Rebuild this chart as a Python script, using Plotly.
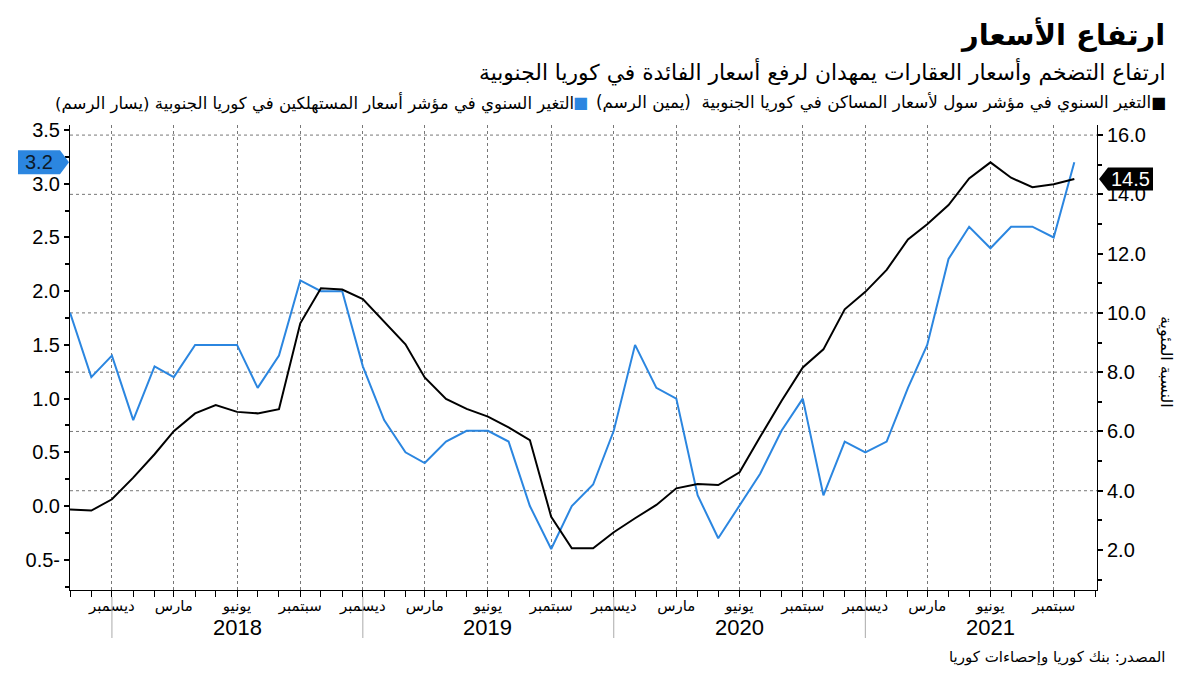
import plotly.graph_objects as go
import pandas as pd

# ---------------- data ----------------
months = pd.date_range("2017-10-01", "2021-10-01", freq="MS")

cpi_yoy = [1.8, 1.2, 1.4, 0.8, 1.3, 1.2, 1.5, 1.5, 1.5, 1.1, 1.4, 2.1,
           2.0, 2.0, 1.3, 0.8, 0.5, 0.4, 0.6, 0.7, 0.7, 0.6, 0.0, -0.4,
           0.0, 0.2, 0.7, 1.5, 1.1, 1.0, 0.1, -0.3, 0.0, 0.3, 0.7, 1.0,
           0.1, 0.6, 0.5, 0.6, 1.1, 1.5, 2.3, 2.6, 2.4, 2.6, 2.6, 2.5, 3.2]

seoul_housing_yoy = [3.37, 3.33, 3.71, 4.44, 5.23, 6.01, 6.61, 6.89, 6.66, 6.61, 6.75, 9.65,
                     10.83, 10.79, 10.47, 9.72, 8.94, 7.82, 7.10, 6.76, 6.50, 6.14, 5.71, 3.12,
                     2.06, 2.06, 2.60, 3.07, 3.52, 4.08, 4.23, 4.19, 4.62, 5.82, 7.03, 8.16,
                     8.77, 10.12, 10.71, 11.45, 12.48, 12.99, 13.64, 14.54, 15.08, 14.56, 14.24, 14.34, 14.52]

tick_dates = ["2017-12-01", "2018-03-01", "2018-06-01", "2018-09-01",
              "2018-12-01", "2019-03-01", "2019-06-01", "2019-09-01",
              "2019-12-01", "2020-03-01", "2020-06-01", "2020-09-01",
              "2020-12-01", "2021-03-01", "2021-06-01", "2021-09-01"]
tick_labels = ["ديسمبر", "مارس", "يونيو", "سبتمبر"] * 4

year_labels = ["2018", "2019", "2020", "2021"]
year_label_dates = ["2018-06-01", "2019-06-01", "2020-06-01", "2021-06-01"]
year_sep_dates = ["2017-12-01", "2018-12-01", "2019-12-01", "2020-12-01"]

left_ticks = [-0.5, 0.0, 0.5, 1.0, 1.5, 2.0, 2.5, 3.0, 3.5]
left_ticktext = ["0.5-", "0.0", "0.5", "1.0", "1.5", "2.0", "2.5", "3.0", "3.5"]
right_ticks = [2, 4, 6, 8, 10, 12, 14, 16]
right_ticktext = ["2.0", "4.0", "6.0", "8.0", "10.0", "12.0", "14.0", "16.0"]
right_grid_values = [4, 6, 8, 10, 14, 16]

title = "ارتفاع الأسعار"
subtitle = "ارتفاع التضخم وأسعار العقارات يمهدان لرفع أسعار الفائدة في كوريا الجنوبية"
legend_housing = "التغير السنوي في مؤشر سول لأسعار المساكن في كوريا الجنوبية  (يمين الرسم)"
legend_cpi = "التغير السنوي في مؤشر أسعار المستهلكين في كوريا الجنوبية (يسار الرسم)"
right_axis_title = "النسبة المئوية"
source = "المصدر: بنك كوريا وإحصاءات كوريا"

# ---------------- styles ----------------
BLUE = "#2B86E0"
BLACK = "#000000"
AR = "DejaVu Sans"
NUM = "Liberation Sans"
RLE, PDF = "\u202B", "\u202C"

W, H = 1200, 675
L, R, T, B = 70, 103, 125, 85
PW, PH = W - L - R, H - T - B


def px_x(x):
    return (x - L) / PW


def px_y(y):
    return (H - B - y) / PH


fig = go.Figure()
fig.add_trace(go.Scatter(x=months, y=cpi_yoy, mode="lines",
                         line=dict(color=BLUE, width=2), yaxis="y", showlegend=False))
fig.add_trace(go.Scatter(x=months, y=seoul_housing_yoy, mode="lines",
                         line=dict(color=BLACK, width=2), yaxis="y2", showlegend=False))

shapes = []
# horizontal grid (right axis)
for v in right_grid_values:
    shapes.append(dict(type="line", xref="paper", yref="y2", x0=0, x1=1, y0=v, y1=v,
                       line=dict(color="#777777", width=1, dash="dot"), layer="below"))
# year separators
for d in year_sep_dates:
    shapes.append(dict(type="line", xref="x", yref="paper", x0=d, x1=d,
                       y0=px_y(597), y1=px_y(638), line=dict(color="#aaaaaa", width=1)))

# value tags
c_last = cpi_yoy[-1]
hh = 12 / (PH / (3.547 + 0.782))
xs = [px_x(18), px_x(60), px_x(69)]
shapes.append(dict(type="path", xref="paper", yref="y", layer="above",
                   path=f"M {xs[0]},{c_last + hh} L {xs[1]},{c_last + hh} L {xs[2]},{c_last} "
                        f"L {xs[1]},{c_last - hh} L {xs[0]},{c_last - hh} Z",
                   fillcolor=BLUE, line=dict(width=0)))
h_last = seoul_housing_yoy[-1]
hh2 = 11.5 / (PH / (16.34 - 0.65))
xs2 = [px_x(1099), px_x(1108), px_x(1153)]
shapes.append(dict(type="path", xref="paper", yref="y2", layer="above",
                   path=f"M {xs2[0]},{h_last} L {xs2[1]},{h_last + hh2} L {xs2[2]},{h_last + hh2} "
                        f"L {xs2[2]},{h_last - hh2} L {xs2[1]},{h_last - hh2} Z",
                   fillcolor=BLACK, line=dict(width=0)))

annotations = []
annotations.append(dict(xref="paper", yref="y", x=px_x(39), y=c_last, xanchor="center",
                        yanchor="middle", text=f"{c_last:.1f}",
                        showarrow=False, font=dict(family=NUM, size=20, color="#0d1b2a")))
annotations.append(dict(xref="paper", yref="y2", x=px_x(1130), y=h_last, xanchor="center",
                        yanchor="middle", text=f"{h_last:.1f}",
                        showarrow=False, font=dict(family=NUM, size=20, color="white")))

for lab, d in zip(year_labels, year_label_dates):
    annotations.append(dict(xref="x", yref="paper", x=d, y=px_y(627), xanchor="center",
                            yanchor="middle", text=lab, showarrow=False,
                            font=dict(family=NUM, size=22, color=BLACK)))

annotations += [
    dict(xref="paper", yref="paper", x=px_x(1167), y=px_y(35), xanchor="right", yanchor="middle",
         text=f"<b>{RLE}{title}{PDF}</b>", showarrow=False, font=dict(family=AR, size=29, color=BLACK)),
    dict(xref="paper", yref="paper", x=px_x(1167), y=px_y(72), xanchor="right", yanchor="middle",
         text=RLE + subtitle + PDF, showarrow=False, font=dict(family=AR, size=21.8, color=BLACK)),
    dict(xref="paper", yref="paper", x=px_x(1168), y=px_y(103), xanchor="right", yanchor="middle",
         text="■", showarrow=False, font=dict(family=AR, size=16, color=BLACK)),
    dict(xref="paper", yref="paper", x=px_x(1153), y=px_y(103), xanchor="right", yanchor="middle",
         text=RLE + legend_housing + PDF, showarrow=False, font=dict(family=AR, size=16.8, color=BLACK)),
    dict(xref="paper", yref="paper", x=px_x(590), y=px_y(103), xanchor="right", yanchor="middle",
         text="■", showarrow=False, font=dict(family=AR, size=16, color=BLUE)),
    dict(xref="paper", yref="paper", x=px_x(576), y=px_y(103), xanchor="right", yanchor="middle",
         text=RLE + legend_cpi + PDF, showarrow=False, font=dict(family=AR, size=16.6, color=BLACK)),
    dict(xref="paper", yref="paper", x=px_x(1166), y=px_y(362), xanchor="center", yanchor="middle",
         textangle=90, text=RLE + right_axis_title + PDF, showarrow=False,
         font=dict(family=AR, size=16, color=BLACK)),
    dict(xref="paper", yref="paper", x=px_x(1167), y=px_y(657), xanchor="right", yanchor="middle",
         text=RLE + source + PDF, showarrow=False, font=dict(family=AR, size=15, color=BLACK)),
]

fig.update_layout(
    width=W, height=H,
    margin=dict(l=L, r=R, t=T, b=B),
    paper_bgcolor="white", plot_bgcolor="white",
    showlegend=False,
    shapes=shapes, annotations=annotations,
    xaxis=dict(
        type="date", range=["2017-10-01", "2021-11-03"],
        tickmode="array", tickvals=tick_dates, ticktext=tick_labels,
        tickfont=dict(family=AR, size=15, color=BLACK),
        ticks="outside", ticklen=6, tickcolor=BLACK,
        ticklabelstandoff=-4,
        showgrid=True, gridcolor="#777777", griddash="dot", gridwidth=1,
        showline=True, linecolor=BLACK, linewidth=1,
        minor=dict(tickmode="linear", tick0="2017-10-01", dtick="M1", ticks="outside",
                   ticklen=6, tickcolor=BLACK, showgrid=False),
        zeroline=False,
    ),
    yaxis=dict(
        range=[-0.782, 3.547], tickmode="array", tickvals=left_ticks, ticktext=left_ticktext,
        tickfont=dict(family=NUM, size=20, color=BLACK),
        ticks="outside", ticklen=5, tickcolor=BLACK, tickwidth=2,
        showgrid=False, zeroline=False,
        showline=True, linecolor=BLACK, linewidth=1,
        minor=dict(tickmode="linear", tick0=0, dtick=0.25, ticks="outside", ticklen=4,
                   tickcolor=BLACK, showgrid=False),
    ),
    yaxis2=dict(
        range=[0.65, 16.34], overlaying="y", side="right",
        tickmode="array", tickvals=right_ticks, ticktext=right_ticktext,
        tickfont=dict(family=NUM, size=20, color=BLACK),
        ticks="outside", ticklen=5, tickcolor=BLACK, tickwidth=2,
        showgrid=False, zeroline=False,
        showline=True, linecolor=BLACK, linewidth=1,
        minor=dict(tickmode="linear", tick0=0, dtick=1, ticks="outside", ticklen=4,
                   tickcolor=BLACK, showgrid=False),
    ),
)

fig.write_html("out.html", config={"displayModeBar": False},
               post_script="document.body.style.margin='0';")
